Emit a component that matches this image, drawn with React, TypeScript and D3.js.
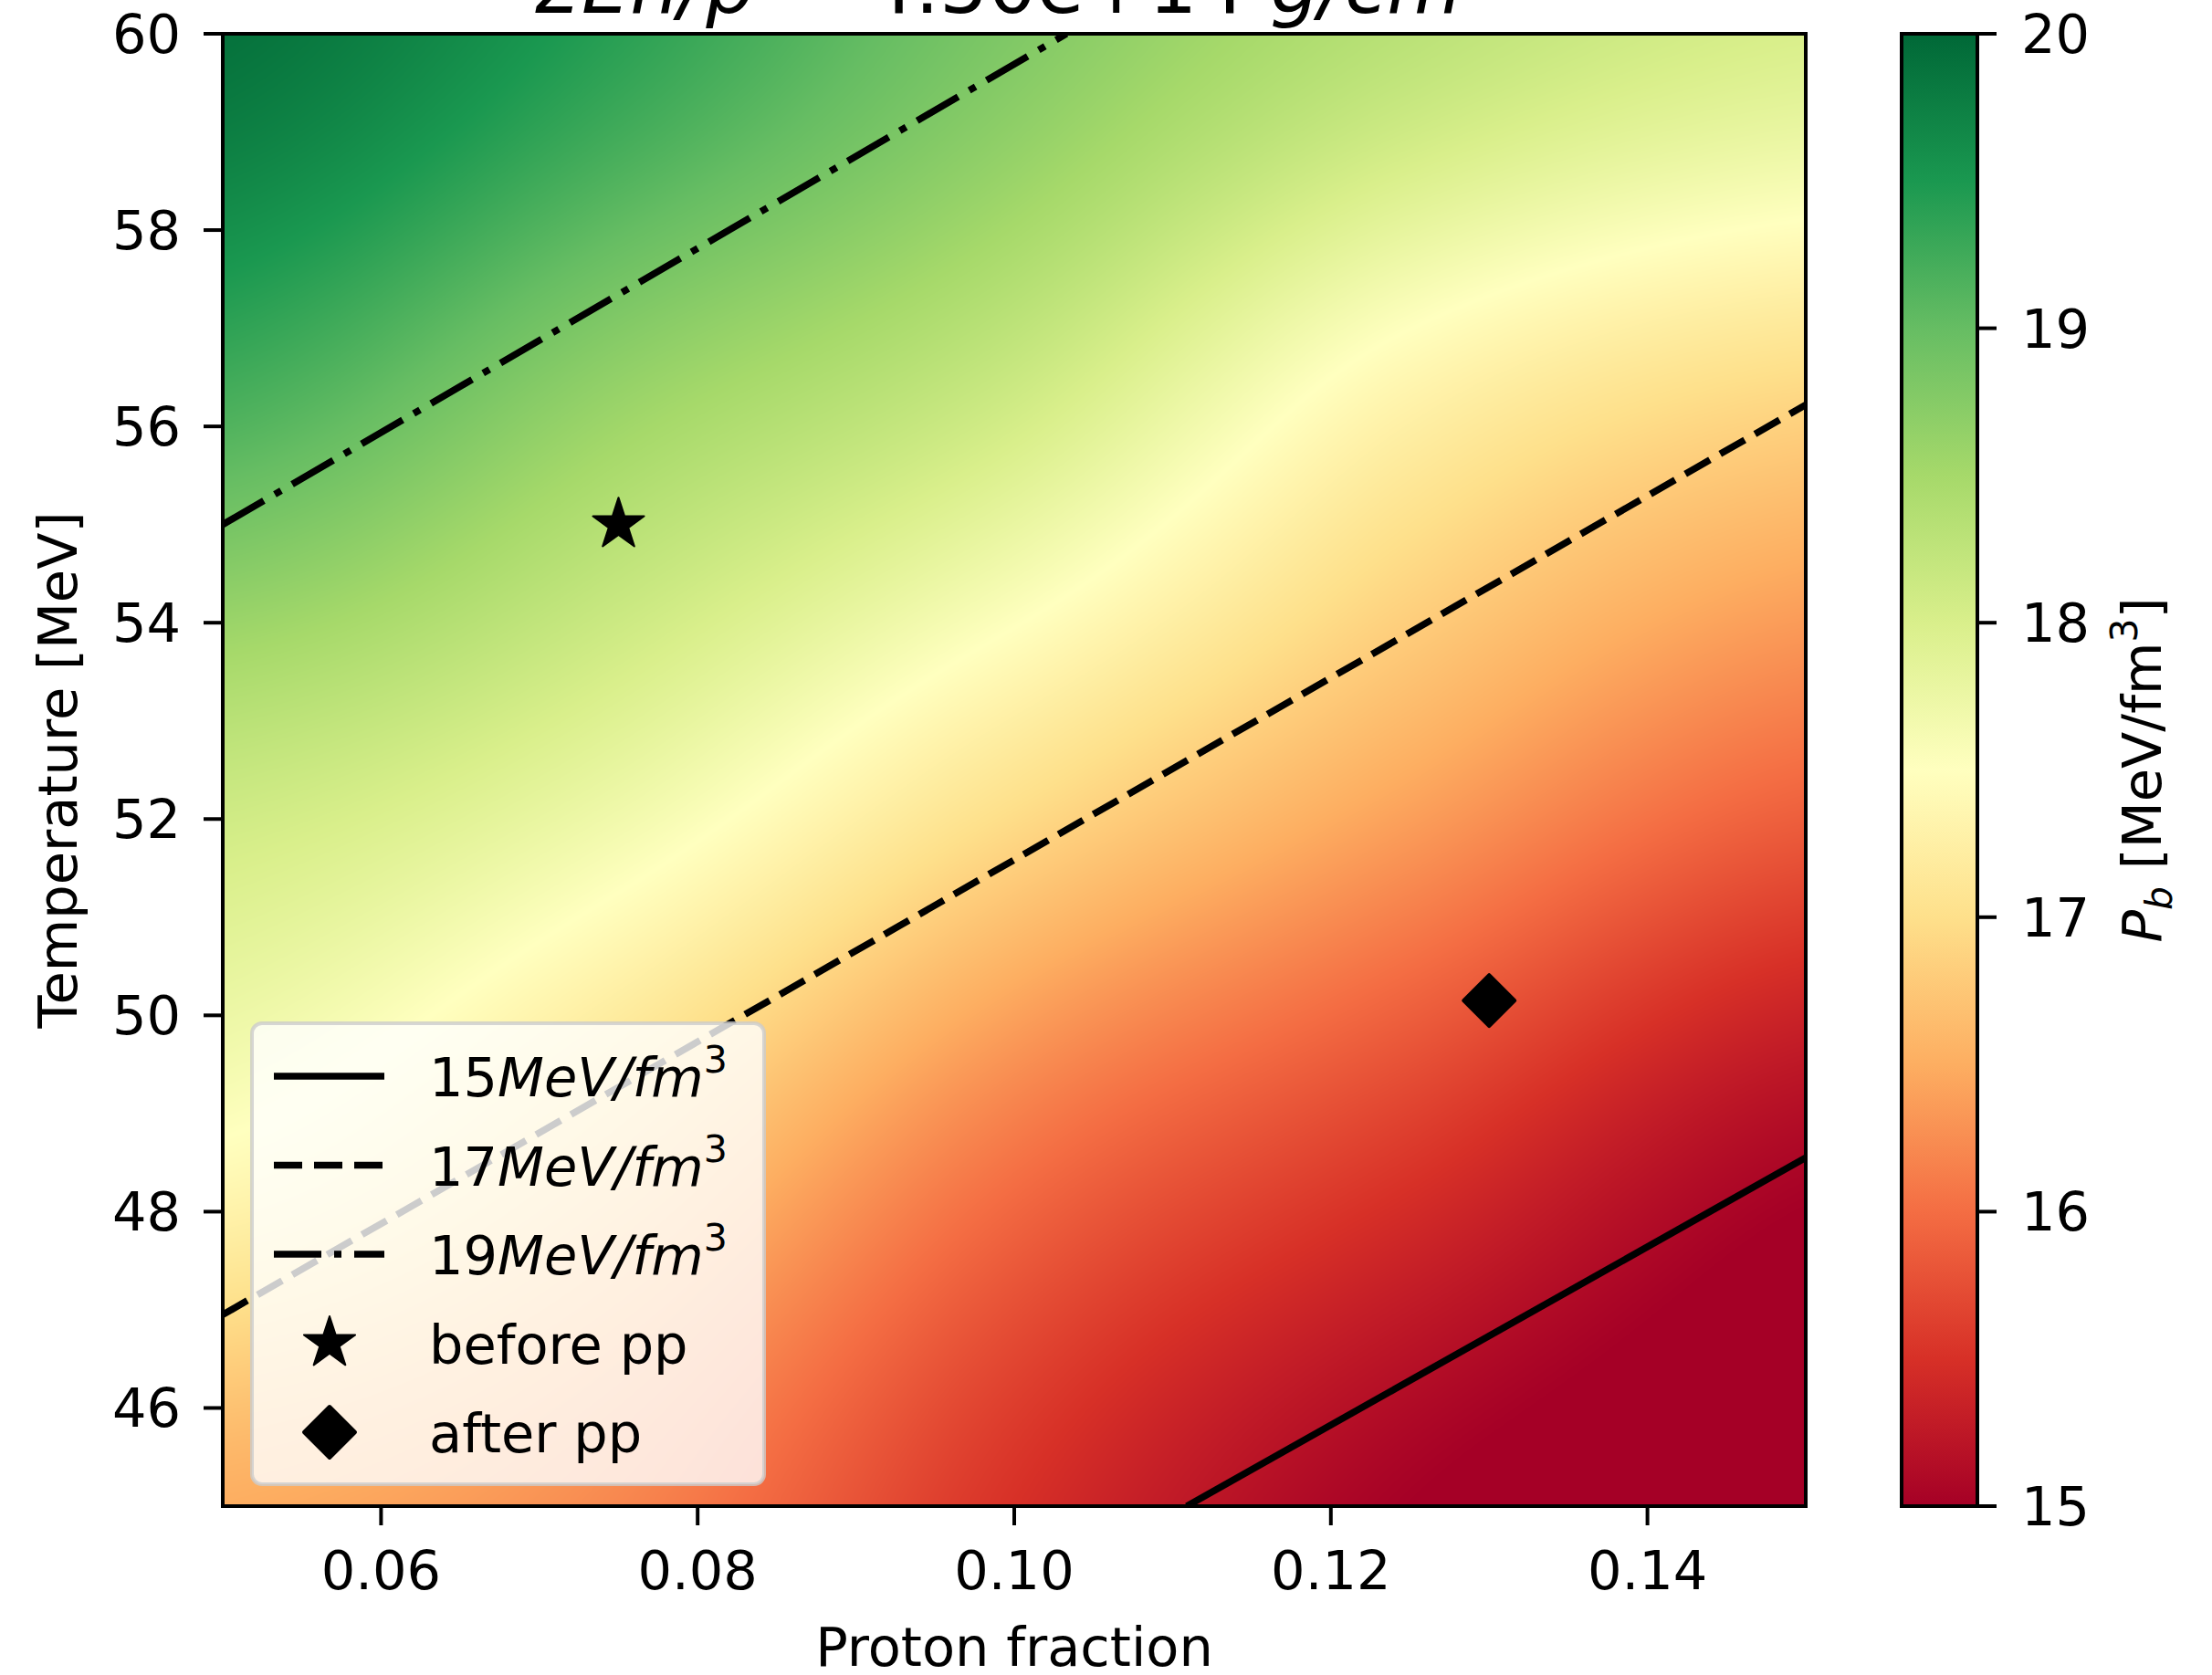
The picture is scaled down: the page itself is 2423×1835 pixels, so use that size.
import React, { useMemo } from "react";
import * as d3 from "d3";

// ---------- data ----------
const xDomain = [0.05, 0.15];
const yDomain = [45, 60];
const xTicks = [0.06, 0.08, 0.1, 0.12, 0.14];
const yTicks = [46, 48, 50, 52, 54, 56, 58, 60];
const cTicks = [15, 16, 17, 18, 19, 20];

// coarse field of P_b [MeV/fm^3]
const gridX = [0.05, 0.075, 0.1, 0.125, 0.15];
const gridT = [45, 48.75, 52.5, 56.25, 60];
const gridP = [
  [16.5, 16.2, 15.5, 15.0, 14.8], // T = 45
  [17.5, 16.9, 16.1, 15.6, 15.1], // T = 48.75
  [18.2, 17.8, 17.1, 16.5, 16.0], // T = 52.5
  [19.2, 18.6, 18.1, 17.3, 16.9], // T = 56.25
  [19.9, 19.4, 18.8, 18.3, 18.0], // T = 60
];

// contour levels (straight lines) as endpoints [x, T]
const contour15 = [[0.1109, 45], [0.15, 48.55]];
const contour17 = [[0.05, 46.95], [0.15, 56.22]];
const contour19 = [[0.05, 55.0], [0.1033, 60]];

const beforePP = [0.075, 55.0];
const afterPP = [0.13, 50.15];

const rdylgn = [
  "#a50026", "#d73027", "#f46d43", "#fdae61", "#fee08b", "#ffffbf",
  "#d9ef8b", "#a6d96a", "#66bd63", "#1a9850", "#006837",
];

// ---------- layout ----------
const W = 2423, H = 1835;
const P = { left: 244, top: 37, right: 1978, bottom: 1650 };
const CB = { left: 2083, right: 2166 };
const FS = 59;
const FONT = "DejaVu Sans, sans-serif";

const x = d3.scaleLinear().domain(xDomain).range([P.left, P.right]);
const y = d3.scaleLinear().domain(yDomain).range([P.bottom, P.top]);
const cy = d3.scaleLinear().domain([15, 20]).range([P.bottom, P.top]);
const color = d3
  .scaleLinear<string>()
  .domain(d3.range(11).map((i) => 15 + (i * 5) / 10))
  .range(rdylgn)
  .interpolate(d3.interpolateRgb)
  .clamp(true);

const gx = d3.scaleLinear().domain(gridX).range(gridX.map((_, i) => i));
const gy = d3.scaleLinear().domain(gridT).range(gridT.map((_, i) => i));

function cr(p0: number, p1: number, p2: number, p3: number, t: number) {
  return 0.5 * (2 * p1 + (-p0 + p2) * t + (2 * p0 - 5 * p1 + 4 * p2 - p3) * t * t + (-p0 + 3 * p1 - 3 * p2 + p3) * t * t * t);
}
function field(xv: number, tv: number) {
  const nx = gridX.length, ny = gridT.length;
  const fx = Math.min(Math.max(gx(xv), 0), nx - 1);
  const fy = Math.min(Math.max(gy(tv), 0), ny - 1);
  const ix = Math.min(Math.floor(fx), nx - 2), iy = Math.min(Math.floor(fy), ny - 2);
  const tx = fx - ix, ty = fy - iy;
  const g = (i: number, j: number) => {
    const a = Math.min(Math.max(i, 0), ny - 1), b = Math.min(Math.max(j, 0), nx - 1);
    return gridP[a][b];
  };
  const rows = [-1, 0, 1, 2].map((di) =>
    cr(g(iy + di, ix - 1), g(iy + di, ix), g(iy + di, ix + 1), g(iy + di, ix + 2), tx)
  );
  return cr(rows[0], rows[1], rows[2], rows[3], ty);
}

function useHeatmap() {
  return useMemo(() => {
    const w = Math.round(P.right - P.left), h = Math.round(P.bottom - P.top);
    const canvas = document.createElement("canvas");
    canvas.width = w; canvas.height = h;
    const ctx = canvas.getContext("2d")!;
    const img = ctx.createImageData(w, h);
    for (let j = 0; j < h; j++) {
      const tv = y.invert(P.top + j + 0.5);
      for (let i = 0; i < w; i++) {
        const xv = x.invert(P.left + i + 0.5);
        const c = d3.rgb(color(field(xv, tv)));
        const k = (j * w + i) * 4;
        img.data[k] = c.r; img.data[k + 1] = c.g; img.data[k + 2] = c.b; img.data[k + 3] = 255;
      }
    }
    ctx.putImageData(img, 0, 0);
    return canvas.toDataURL();
  }, []);
}

function starPath(cx: number, cyv: number, r: number) {
  const pts: [number, number][] = [];
  for (let i = 0; i < 10; i++) {
    const rr = i % 2 === 0 ? r : r * 0.381966;
    const a = -Math.PI / 2 + (i * Math.PI) / 5;
    pts.push([cx + rr * Math.cos(a), cyv + rr * Math.sin(a)]);
  }
  return "M" + pts.map((p) => p.join(",")).join("L") + "Z";
}
function diamondPath(cx: number, cyv: number, r: number) {
  return `M${cx},${cyv - r}L${cx + r},${cyv}L${cx},${cyv + r}L${cx - r},${cyv}Z`;
}

const line = d3.line<number[]>().x((d) => x(d[0])).y((d) => y(d[1]));

const LW = 7.5;
const DASH = "31,13";
const DASHDOT = "52,14,8,14";

export default function App() {
  const href = useHeatmap();
  const legendRows = [
    { kind: "line", dash: undefined, v: "15" },
    { kind: "line", dash: DASH, v: "17" },
    { kind: "line", dash: DASHDOT, v: "19" },
    { kind: "star", label: "before pp" },
    { kind: "diamond", label: "after pp" },
  ];
  return (
    <svg width={W} height={H} style={{ display: "block", position: "absolute", left: 0, top: 0 }} fontFamily={FONT}>
      <rect x={0} y={0} width={W} height={H} fill="white" />
      <defs>
        <clipPath id="plotclip">
          <rect x={P.left} y={P.top} width={P.right - P.left} height={P.bottom - P.top} />
        </clipPath>
        <linearGradient id="cbgrad" x1="0" y1="1" x2="0" y2="0">
          {rdylgn.map((c, i) => (
            <stop key={i} offset={i / 10} stopColor={c} />
          ))}
        </linearGradient>
      </defs>

      {/* title (mostly cut off at the top edge, as in the original) */}
      <text x={(P.left + P.right) / 2} y={14} fontSize={84} textAnchor="middle" fill="black" style={{ whiteSpace: "pre" }}>
        <tspan fontStyle="italic">ΣEn/ρ</tspan>
        <tspan> = 4.50e+14 </tspan>
        <tspan fontStyle="italic">g/cm</tspan>
        <tspan fontSize={58} dy={-34}>3</tspan>
      </text>

      {/* heatmap */}
      <image href={href} x={P.left} y={P.top} width={P.right - P.left} height={P.bottom - P.top} preserveAspectRatio="none" />

      {/* contour lines */}
      <g clipPath="url(#plotclip)" fill="none" stroke="black" strokeWidth={LW}>
        <path d={line(contour15)!} />
        <path d={line(contour17)!} strokeDasharray={DASH} />
        <path d={line(contour19)!} strokeDasharray={DASHDOT} />
      </g>

      {/* markers */}
      <path d={starPath(x(beforePP[0]), y(beforePP[1]), 29.5)} fill="black" stroke="black" strokeWidth={2} strokeLinejoin="round" />
      <path d={diamondPath(x(afterPP[0]), y(afterPP[1]), 28)} fill="black" stroke="black" strokeWidth={4} strokeLinejoin="round" />

      {/* legend */}
      <g>
        <rect x={276} y={1121} width={561} height={505} rx={11} fill="white" fillOpacity={0.8} stroke="#cccccc" strokeOpacity={0.8} strokeWidth={4} />
        {legendRows.map((r, i) => {
          const cyy = 1179 + i * 97.5;
          return (
            <g key={i}>
              {r.kind === "line" && (
                <line x1={300} x2={421} y1={cyy} y2={cyy} stroke="black" strokeWidth={LW} strokeDasharray={r.dash} />
              )}
              {r.kind === "star" && <path d={starPath(361, cyy, 29.5)} fill="black" stroke="black" strokeWidth={2} strokeLinejoin="round" />}
              {r.kind === "diamond" && <path d={diamondPath(361, cyy, 28)} fill="black" stroke="black" strokeWidth={4} strokeLinejoin="round" />}
              {r.kind === "line" ? (
                <text x={470} y={cyy + 22} fontSize={FS}>
                  {r.v}
                  <tspan fontStyle="italic">MeV/fm</tspan>
                  <tspan fontSize={41} dy={-26}>3</tspan>
                </text>
              ) : (
                <text x={470} y={cyy + 22} fontSize={FS}>{r.label}</text>
              )}
            </g>
          );
        })}
      </g>

      {/* axes frame */}
      <rect x={P.left} y={P.top} width={P.right - P.left} height={P.bottom - P.top} fill="none" stroke="black" strokeWidth={4} />

      {/* x ticks */}
      {xTicks.map((t) => (
        <g key={t}>
          <line x1={x(t)} x2={x(t)} y1={P.bottom} y2={P.bottom + 21} stroke="black" strokeWidth={4} />
          <text x={x(t)} y={1741} fontSize={FS} textAnchor="middle">{d3.format(".2f")(t)}</text>
        </g>
      ))}
      <text x={(P.left + P.right) / 2} y={1825} fontSize={FS} textAnchor="middle">Proton fraction</text>

      {/* y ticks */}
      {yTicks.map((t) => (
        <g key={t}>
          <line x1={P.left - 21} x2={P.left} y1={y(t)} y2={y(t)} stroke="black" strokeWidth={4} />
          <text x={198} y={y(t) + 21} fontSize={FS} textAnchor="end">{t}</text>
        </g>
      ))}
      <text transform={`translate(84,${(P.top + P.bottom) / 2}) rotate(-90)`} fontSize={FS} textAnchor="middle">Temperature [MeV]</text>

      {/* colorbar */}
      <rect x={CB.left} y={P.top} width={CB.right - CB.left} height={P.bottom - P.top} fill="url(#cbgrad)" stroke="black" strokeWidth={4} />
      {cTicks.map((t) => (
        <g key={t}>
          <line x1={CB.right} x2={CB.right + 21} y1={cy(t)} y2={cy(t)} stroke="black" strokeWidth={4} />
          <text x={2214} y={cy(t) + 21} fontSize={FS}>{t}</text>
        </g>
      ))}
      <text transform={`translate(2367,${(P.top + P.bottom) / 2}) rotate(-90)`} fontSize={FS} textAnchor="middle">
        <tspan fontStyle="italic">P</tspan>
        <tspan fontStyle="italic" fontSize={41} dy={12}>b</tspan>
        <tspan dy={-12}> [MeV/fm</tspan>
        <tspan fontSize={41} dy={-26}>3</tspan>
        <tspan dy={26}>]</tspan>
      </text>
    </svg>
  );
}
